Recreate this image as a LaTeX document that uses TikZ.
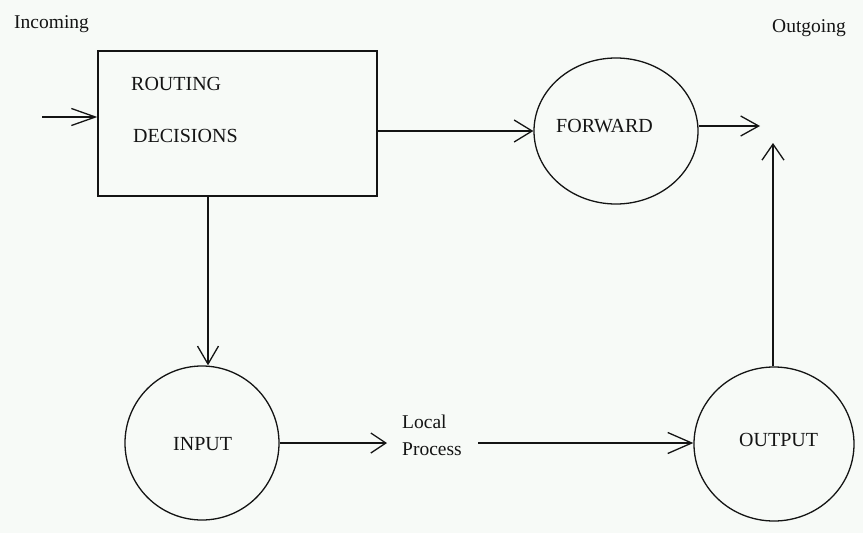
\documentclass[tikz,border=0pt]{standalone}
\usepackage{fontspec}
\setmainfont{Liberation Serif}
\usetikzlibrary{arrows.meta,shapes.geometric,calc}
\definecolor{paper}{RGB}{247,250,247}
\definecolor{ink}{RGB}{20,20,20}
\begin{document}
\begin{tikzpicture}[x=1pt,y=-1pt,
  wire/.style={line width=1.3pt, draw=ink},
  barb/.style 2 args={-{Straight Barb[length=#1pt,width=#2pt]}},
  shapebox/.style={draw, wire, inner sep=0pt},
  lbl/.style={anchor=base west, inner sep=0pt, text=ink, font=\fontsize{20}{24}\selectfont},
  small/.style={lbl, font=\fontsize{19.5}{23}\selectfont}]
  \fill[paper] (0,0) rectangle (863,533);
  \useasboundingbox (0,0) rectangle (863,533);

  % shapes
  \node[shapebox, minimum width=279pt, minimum height=145pt] (rd) at (237.5,123.5) {};
  \node[shapebox, ellipse, minimum width=164pt, minimum height=146pt] (fw) at (616,131) {};
  \node[shapebox, circle, minimum size=154pt] (ip) at (202,443) {};
  \node[shapebox, ellipse, minimum width=160pt, minimum height=154pt] (op) at (774,444) {};

  % labels
  \node[small] (incoming) at (14,28) {Incoming};
  \node[small] (outgoing) at (772,32) {Outgoing};
  \node[lbl] (routing) at (131,90) {ROUTING};
  \node[lbl] (decisions) at (133,142) {DECISIONS};
  \node[lbl] (fwtext) at (556,132) {FORWARD};
  \node[lbl] (iptext) at (173,450) {INPUT};
  \node[lbl] (optext) at (739,446) {OUTPUT};
  \node[small] (local) at (402,428) {Local};
  \node[small] (process) at (402,455) {Process};

  % free ends of connectors
  \coordinate (inS) at (42,117);
  \coordinate (outE) at (760,126);
  \coordinate (upT) at (773,143);
  \coordinate (lpin) at (387,443);
  \coordinate (lpout) at (478,443);

  % connectors
  \draw[wire, barb={24}{17}] (inS) -- (inS -| rd.west);
  \draw[wire, barb={18}{22}] (fw.west -| rd.east) -- (fw.west);
  \draw[wire, barb={18}{20}] (outE -| fw.east) -- (outE);
  \draw[wire, barb={16}{22}] (upT |- op.north) -- (upT);
  \draw[wire, barb={18}{21}] ([xshift=-29.5pt]rd.south) -- ([xshift=-29.5pt]rd.south |- ip.north);
  \draw[wire, barb={15}{20}] (ip.east) -- (ip.east -| lpin);
  \draw[wire, barb={24}{21}] (lpout) -- (lpout -| op.west);
\end{tikzpicture}
\end{document}
